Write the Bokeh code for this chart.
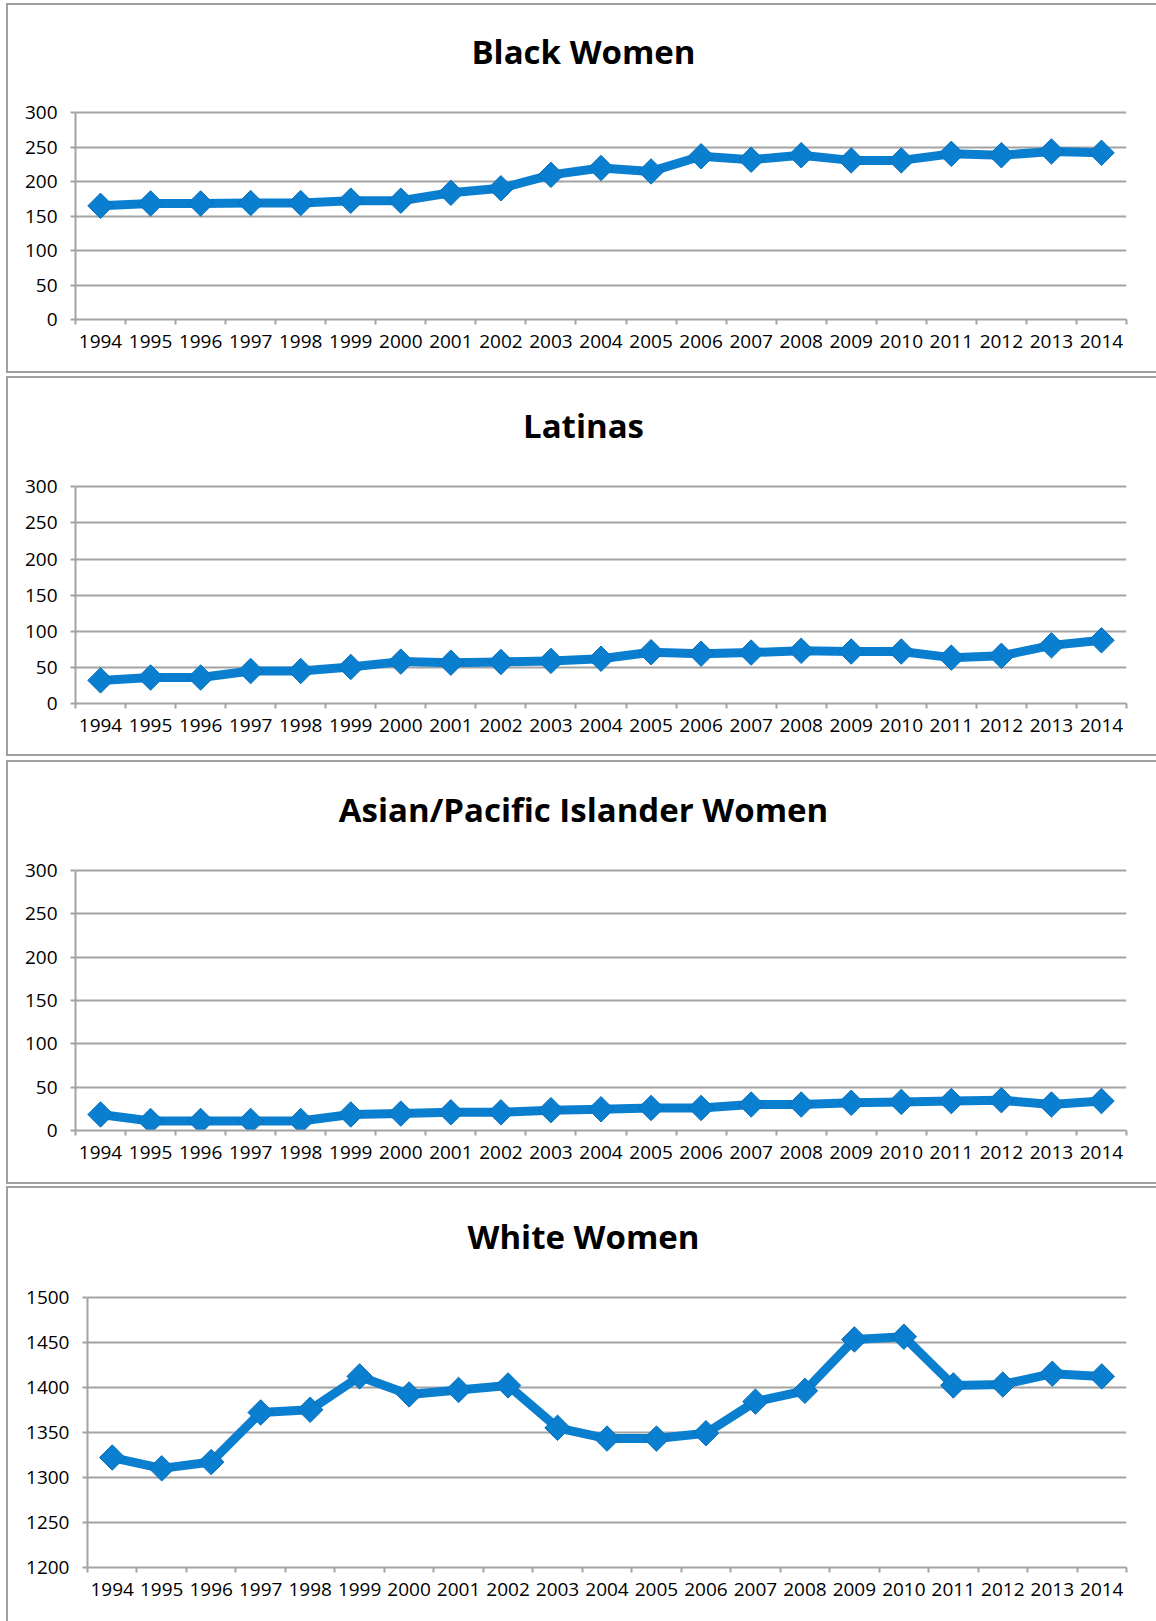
from bokeh.plotting import figure
from bokeh.layouts import column
from bokeh.models import Range1d, FixedTicker
from bokeh.core.properties import value
from bokeh.embed import file_html
from bokeh.resources import INLINE
import numpy as np

# ---- data -------------------------------------------------------------
years = [1994, 1995, 1996, 1997, 1998, 1999, 2000, 2001, 2002, 2003, 2004,
         2005, 2006, 2007, 2008, 2009, 2010, 2011, 2012, 2013, 2014]

black_women = [165, 168.5, 168.5, 169, 169, 172.5, 172.5, 184, 190.5, 210, 220,
               215, 237, 232, 238.5, 231, 231, 240.5, 238.5, 244, 242]
latinas = [32, 36, 36, 45, 45, 50.5, 58, 56.5, 57.5, 59, 62,
           71, 69, 70.5, 73, 72, 72, 63.5, 66, 80.5, 87.5]
asian_pi_women = [18.5, 11, 11, 11, 11, 18.5, 19.5, 21, 21, 23.5, 24.5,
                  26, 26, 30, 30, 32, 33, 34, 35, 30, 34]
white_women = [1322, 1310, 1317, 1372, 1375, 1412, 1392, 1397, 1402, 1355, 1343,
               1343, 1349, 1384, 1396, 1453, 1456, 1402, 1403, 1415, 1412]

titles = ["Black Women", "Latinas", "Asian/Pacific Islander Women", "White Women"]
y_ticks_small = [0, 50, 100, 150, 200, 250, 300]
y_ticks_white = [1200, 1250, 1300, 1350, 1400, 1450, 1500]

# ---- style ------------------------------------------------------------
GRID = "#a3a3a3"
BORDER = "#a0a0a0"
BLUE = "#0a7fcf"
BLUE_EDGE = "#0a6fba"
FONT = "Open Sans"
PAGE_W = 1148
FRAME_RIGHT = 1124      # page x of the plotting area's right edge
TITLE_CENTER_X = 582    # page x of the title centre
TITLE_RISE = 61         # title offset above the top gridline, px


def make_panel(title, values, y_ticks, height, frame_left, top_pad, bottom_pad,
               gap_above, bottom_border=True):
    # the plotting frame reaches the top of the panel so the title can sit in it;
    # the data part (first..last y tick) occupies the lower band of the frame
    data_h = height - top_pad - bottom_pad
    y0, y1 = y_ticks[0], y_ticks[-1]
    y_top = y1 + (y1 - y0) * top_pad / data_h

    styles = {
        "box-sizing": "content-box",
        "border-top": f"2px solid {BORDER}",
        "border-left": f"2px solid {BORDER}",
    }
    if bottom_border:
        styles["border-bottom"] = f"2px solid {BORDER}"

    p = figure(width=PAGE_W, height=height, output_backend="svg",
               toolbar_location=None, title=None,
               x_range=Range1d(years[0] - 0.5, years[-1] + 0.5),
               y_range=Range1d(y0, y_top),
               min_border_left=frame_left - 8, min_border_right=32,
               min_border_top=0, min_border_bottom=bottom_pad,
               frame_align=False,
               outline_line_color=None, background_fill_color="white",
               border_fill_color="white",
               margin=(gap_above, 0, 0, 6), styles=styles)

    edges = [y - 0.5 for y in years] + [years[-1] + 0.5]

    xa = p.xaxis[0]
    xa.ticker = FixedTicker(ticks=years, minor_ticks=edges)
    xa.axis_line_color = GRID
    xa.axis_line_width = 2
    xa.major_tick_out = 0
    xa.major_tick_in = 0
    xa.minor_tick_out = 5
    xa.minor_tick_in = 0
    xa.minor_tick_line_color = GRID
    xa.minor_tick_line_width = 2
    xa.major_label_text_font = FONT
    xa.major_label_text_font_size = "19px"
    xa.major_label_text_color = "#000000"
    xa.major_label_standoff = 10

    ya = p.yaxis[0]
    ya.ticker = FixedTicker(ticks=y_ticks)
    ya.bounds = (y0, y1)
    ya.axis_line_color = GRID
    ya.axis_line_width = 2
    ya.major_tick_out = 5
    ya.major_tick_in = 0
    ya.major_tick_line_color = GRID
    ya.major_tick_line_width = 2
    ya.minor_tick_line_color = None
    ya.major_label_text_font = FONT
    ya.major_label_text_font_size = "19px"
    ya.major_label_text_color = "#000000"
    ya.major_label_standoff = 13

    p.xgrid.grid_line_color = None
    p.ygrid.ticker = FixedTicker(ticks=y_ticks)
    p.ygrid.grid_line_color = GRID
    p.ygrid.grid_line_width = 2

    p.line(years, values, line_width=9, line_color=BLUE, line_join="round")
    p.scatter(years, values, marker="square", angle=np.pi / 4, size=18,
              fill_color=BLUE, line_color=BLUE_EDGE, line_width=1)

    # chart title, centred on the chart area above the top gridline
    frame_mid = (frame_left + FRAME_RIGHT) / 2
    p.text(x=[(years[0] + years[-1]) / 2], y=[y1], text=[title],
           x_offset=TITLE_CENTER_X - frame_mid, y_offset=-TITLE_RISE,
           text_font=value(FONT), text_font_style="bold",
           text_font_size="33px", text_color="#000000",
           text_align="center", text_baseline="alphabetic")
    return p


p1 = make_panel(titles[0], black_women, y_ticks_small, 366, 75, 106, 56, 3)
p2 = make_panel(titles[1], latinas, y_ticks_small, 376, 75, 107, 55, 3)
p3 = make_panel(titles[2], asian_pi_women, y_ticks_small, 420, 75, 107, 56, 4)
p4 = make_panel(titles[3], white_women, y_ticks_white, 433, 87, 108, 56, 2,
                bottom_border=False)

layout = column(p1, p2, p3, p4, spacing=0)

with open("out.html", "w") as f:
    f.write(file_html(layout, INLINE))
